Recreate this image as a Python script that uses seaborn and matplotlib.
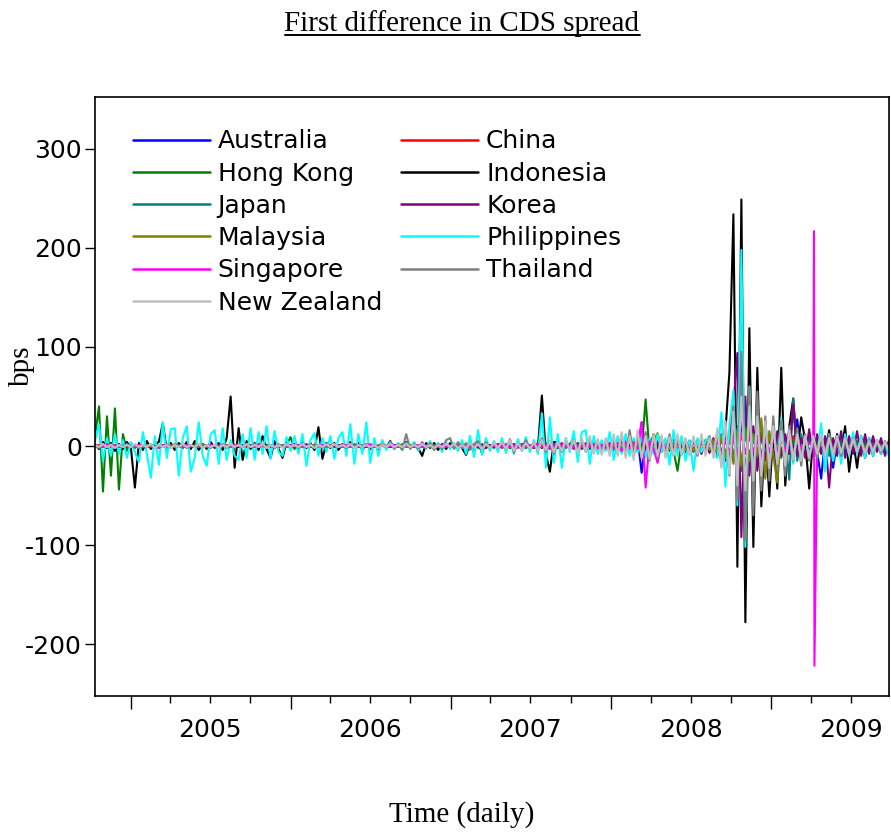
import matplotlib
matplotlib.use("Agg")
import matplotlib.pyplot as plt
import matplotlib.dates as mdates
from matplotlib.lines import Line2D
from matplotlib.ticker import FuncFormatter, NullFormatter, FixedLocator
import numpy as np
import pandas as pd
import seaborn as sns

START, END = "2004-10-12", "2009-09-26"

australia = [
    0, 1, -1, 1, 0, -1, 1, 0, -1, 1,
    0, -1, 1, 0, -1, 1, 0, 1, -1, 0,
    1, -1, 0, 1, -1, 0, 1, -1, 1, 0,
    -1, 1, 0, -1, 1, 0, -1, 1, 0, -1,
    1, 0, -1, 1, -1, 0, 1, -1, 0, 1,
    0, -1, 1, 0, -1, 1, -1, 0, 1, -1,
    1, 0, -1, 1, 0, -1, 1, -1, 0, 1,
    -1, 0, 1, -1, 1, 0, -1, 1, 0, -1,
    1, -1, 0, 1, -1, 1, 0, -1, 1, 0,
    -1, 1, -1, 0, 1, -1, 2, -1, 1, -1,
    1, -2, 1, -1, 2, -1, 1, -2, 1, -1,
    2, -2, 3, -2, 2, -3, 2, -1, 2, -2,
    2, -3, 2, -2, 3, -2, 2, -3, 3, -2,
    3, -4, 4, -3, 5, -4, 8, -27, 6, -4,
    3, -5, 4, -3, 5, -4, 3, -5, 4, -3,
    5, -4, 6, -5, 4, -6, 8, -10, 12, -15,
    15, -25, 30, -30, 20, -15, 10, -12, 14, -10,
    8, -10, 12, -8, 10, -6, 27, -8, 6, -5,
    4, -6, -33, 8, 5, -22, 6, -8, 5, -6,
    4, -5, 3, -4, 5, -3, 4, -5, 3, -4,
]
china = [
    1, 0, 2, -1, 3, -1, 1, 0, -1, 1,
    -1, 0, 1, -1, 0, 1, -1, 1, 0, -1,
    0, 1, -1, 0, 1, -1, 0, 1, -1, 1,
    1, -1, 0, 1, 0, -1, 1, 0, -1, 0,
    0, 1, 0, -1, 1, 0, -1, 1, -1, 0,
    -1, 1, 0, -1, 1, 0, 1, -1, 0, 1,
    0, -1, 1, 0, -1, 1, 0, -1, 1, 0,
    1, -1, 1, 0, -1, 0, 1, -1, 0, 1,
    -1, 0, 1, -1, 0, 1, -1, 0, 1, -1,
    1, -1, 0, 1, -2, 1, -1, 2, -1, 1,
    -1, 2, -1, 1, -2, 1, -1, 2, -1, 1,
    -2, 2, -1, 3, -2, 1, -2, 2, -1, 2,
    -2, 3, -2, 2, -3, 2, -2, 3, -2, 2,
    -3, 4, -3, 5, -4, 3, -5, 6, -4, 3,
    -4, 3, -5, 4, -3, 5, -4, 3, -4, 5,
    -4, 5, -6, 4, -5, 6, -8, 10, -12, 10,
    -15, 20, -25, 22, -18, 15, -12, 10, -8, 10,
    -8, 6, -10, 8, -6, 10, -8, 6, -5, 7,
    -6, 5, -4, 6, -5, 4, -6, 5, -4, 6,
    -4, 5, -3, 4, -5, 3, -4, 5, -3, 4,
]
hong_kong = [
    10, 40, -46, 30, -30, 38, -44, 12, -5, 3,
    -2, 1, -1, 2, -1, 1, -2, 1, 0, -1,
    1, -1, 2, -1, 0, 1, -1, 1, -2, 1,
    0, -1, 1, -1, 2, -1, 1, 0, -1, 1,
    -1, 2, -1, 1, 0, -1, 1, -1, 1, 9,
    -3, 1, -1, 2, -1, 1, 0, -1, 1, -1,
    1, -1, 0, 1, -1, 2, -1, 1, -1, 0,
    1, -1, 1, 0, -1, 1, -1, 2, -1, 1,
    -1, 0, 1, -1, 1, -1, 2, -1, 1, 0,
    -1, 1, -2, 1, -1, 2, -1, 1, -2, 1,
    -1, 2, -1, 1, -2, 1, -1, 2, -2, 1,
    -2, 2, -1, 2, -2, 3, -2, 1, -2, 2,
    7, -3, 2, -2, 3, -2, 2, -3, 2, -2,
    3, -3, 4, -3, 2, -4, 3, -5, 47, -8,
    4, -3, 5, -4, 3, -5, -25, 4, -3, 5,
    -4, 6, -5, 4, -6, 5, -8, 10, -10, 12,
    -15, 18, -20, 15, -12, 10, -8, 10, -12, 8,
    -6, 8, -5, 6, -8, 5, -6, 7, -5, 10,
    -4, 5, -6, 4, -5, 6, -4, 5, -3, 4,
    -3, 4, -5, 3, -4, 5, -3, 4, -3, 3,
]
indonesia = [
    2, -3, 4, -2, 3, -5, 2, -3, 4, -2,
    -42, 3, -4, 5, -3, 2, 4, 23, -5, 3,
    -4, 3, -2, 4, -3, 5, -4, 2, -3, 4,
    -2, 3, -4, 8, 50, -22, 18, -14, 5, -3,
    3, -4, 10, -3, -12, 5, -3, -12, 4, -3,
    2, -3, 4, -2, 3, -4, 19, -13, 3, -2,
    3, -4, 2, -3, 4, -2, 3, -4, 2, -3,
    2, -3, 3, -2, 5, -3, 2, -3, 4, -2,
    3, -2, -10, 3, -2, 3, -4, 2, -3, 3,
    -2, 3, -2, -9, 3, -3, 4, -7, 3, -2,
    2, -3, 3, -2, 4, -3, 2, -4, 3, -2,
    3, -2, 51, -8, -26, 4, 4, -5, 3, -2,
    2, -3, 4, -2, 3, -4, 2, -3, 3, -2,
    3, -2, 4, -3, 2, -4, 3, -5, 4, -3,
    12, -4, 3, -5, 4, -3, 5, -4, 3, -5,
    4, -3, 5, -4, 6, -5, 8, -10, 15, 74,
    234, -122, 249, -178, 119, -102, 79, -61, 20, -51,
    15, -43, 79, -40, 20, 48, -10, 29, 5, -43,
    8, -12, 10, -8, 16, -10, 12, -8, 20, -26,
    6, -22, 10, -12, 8, -10, 6, -8, 4, -6,
]
japan = [
    0, 1, -1, 2, -1, 1, -1, 0, 1, -1,
    1, 0, -1, 1, -1, 0, 1, -1, 1, 0,
    -1, 1, 0, -1, 1, -1, 0, 1, -1, 1,
    0, 1, -1, 0, 1, -1, 1, 0, -1, 1,
    -1, 0, 1, -1, 0, 1, -1, 1, 0, -1,
    1, -1, 0, 1, -1, 1, 0, -1, 1, 0,
    -1, 1, -1, 0, 1, 0, -1, 1, -1, 1,
    0, -1, 1, -1, 0, 1, -1, 0, 1, -1,
    1, 0, -1, 1, -1, 0, 1, -1, 0, 1,
    -1, 1, -1, 2, -1, 1, -2, 1, -1, 1,
    -2, 1, -1, 2, -1, 2, -1, 1, -2, 1,
    -1, 2, -2, 3, -2, 2, -1, 2, -2, 1,
    -2, 3, -2, 2, -3, 2, -3, 2, -2, 3,
    -3, 4, -3, 5, -4, 3, -5, 6, -4, 3,
    -4, 5, -3, 4, -5, 3, -4, 5, -3, 4,
    -5, 4, -6, 5, -4, 6, -8, 10, -12, 12,
    -15, 18, -25, 20, -15, 12, -18, 14, -10, 12,
    -10, 8, -12, 10, -34, 48, -15, 12, -10, 8,
    -8, 10, -6, 8, -10, 6, -8, 7, -5, 6,
    -5, 4, -6, 5, -4, 5, -3, 4, -5, 3,
]
korea = [
    1, -1, 0, 1, -1, 1, 0, -1, 1, 0,
    -1, 1, 0, -1, 1, 0, -1, 1, -1, 0,
    1, 0, -1, 1, -1, 0, 1, -1, 0, 1,
    -1, 1, -1, 0, 1, -1, 1, 0, -1, 1,
    0, -1, 1, -1, 0, 1, -1, 1, 0, -1,
    1, -1, 0, 1, -1, 0, 1, -1, 1, 0,
    -1, 1, 0, -1, 1, -1, 0, 1, -1, 1,
    0, -1, 1, 0, -1, 1, -1, 0, 1, -1,
    1, 0, -1, 1, 0, -1, 1, -1, 0, 1,
    -1, 2, -1, 1, -2, 1, -1, 1, -2, 1,
    -1, 2, -2, 1, -1, 2, -1, 2, -1, 1,
    -2, 3, -2, 2, -3, 2, -2, 3, -1, 2,
    -3, 2, -3, 3, -2, 4, -3, 2, -4, 3,
    -4, 3, -5, 4, -3, 5, -4, 24, -6, 4,
    -5, 4, -6, 5, -4, 6, -5, 4, -6, 5,
    -6, 5, -8, 6, -7, 8, -10, 12, -15, 10,
    40, 94, -92, 50, -30, 20, -25, 15, -15, 10,
    -12, 15, -10, 12, -8, 42, -10, 8, -12, 17,
    -10, 12, -8, 10, -42, 8, -10, 15, -12, 10,
    -8, 15, -10, 12, -8, 10, -6, 8, -10, 6,
]
malaysia = [
    -1, 1, 0, 2, -1, 1, -1, 0, 1, -1,
    0, 1, -1, 1, 0, -1, 1, -1, 0, 1,
    -1, 0, 1, -1, 1, 0, -1, 1, 0, -1,
    1, -1, 0, 1, -1, 1, 0, -1, 1, 0,
    -1, 1, -1, 0, 1, -1, 0, 1, -1, 1,
    0, -1, 1, -1, 0, 1, -1, 0, 1, -1,
    1, 0, -1, 1, -1, 0, 1, -1, 1, 0,
    -1, 1, 0, -1, 1, -1, 0, 1, -1, 1,
    0, -1, 1, 0, -1, 1, -1, 0, 1, -1,
    1, -1, 2, -1, 1, -1, 2, -1, 1, -2,
    1, -1, 2, -2, 1, -1, 2, -1, 1, -2,
    2, -1, 2, -2, 3, -2, 1, -2, 2, -1,
    2, -3, 2, -2, 3, -2, 2, -3, 3, -2,
    3, -4, 3, -3, 4, -3, 4, -4, 3, -4,
    5, 13, -4, 5, -3, 4, -5, 3, -4, 5,
    -5, 4, -6, 5, -4, 6, -8, 10, -12, 14,
    -18, 15, -20, 18, -15, 12, -10, 28, -33, 15,
    -10, -37, 12, -10, 8, -12, 10, -8, 6, -8,
    5, -6, 8, -5, 6, -4, 5, -6, 4, -5,
    3, -4, 5, -3, 4, -5, 3, -4, 3, -3,
]
philippines = [
    5, 22, -15, 8, -10, 12, -8, 6, -12, 4,
    -6, -16, 14, -8, -32, 10, -19, 24, -12, 17,
    18, -30, 8, 20, -26, -12, 24, -10, -20, 12,
    16, -18, 18, -14, 6, -10, -14, 12, -12, 18,
    -14, 14, -8, 20, -13, 15, -6, -10, 9, -5,
    10, -8, 12, -20, 6, 13, -10, 8, -6, 10,
    -13, 8, 14, -10, 22, -18, 12, -8, 24, -17,
    8, -10, 6, -4, 4, -3, 3, -4, 3, -2,
    4, -5, 3, -3, 5, -4, 3, -6, 4, -3,
    3, -5, 6, -8, 10, -11, 16, -9, 8, -5,
    5, -6, 8, -7, 6, -8, 7, -5, 9, -6,
    6, -8, 33, -22, 29, -17, 12, -22, 8, -6,
    15, -16, 14, 16, -18, 10, -8, 6, -5, 14,
    -14, 10, -8, 12, -10, 8, -6, 10, -12, 8,
    -8, 12, -6, 8, -19, 16, -10, 10, -15, 6,
    -25, 8, -6, 5, 10, -8, -12, 34, -41, 20,
    56, -60, 198, -102, 60, -40, 40, -30, 25, -20,
    15, -15, 28, -20, 15, -18, 12, -14, 8, -10,
    5, -12, 23, -26, 12, -15, 10, -18, 12, -10,
    14, -8, 10, -12, 8, -10, 6, -8, 5, -12,
]
singapore = [
    1, 0, -1, 2, 0, 1, -1, 0, 1, 0,
    -1, 1, 0, -1, 1, 0, -2, 1, 0, -1,
    1, 0, -1, 1, 0, -1, 1, 0, -1, 1,
    0, -1, 1, 0, -1, 1, 0, -1, 1, 0,
    -1, 1, 0, -1, 1, -2, 1, 0, -1, 1,
    0, 1, -1, 0, 1, -1, 0, 1, -1, 0,
    1, -1, 0, 1, -1, 0, 1, -1, 0, 2,
    -1, 0, 1, -1, 0, 1, -1, 0, 1, -1,
    0, 1, -1, 0, 1, -1, 0, 1, -1, 0,
    1, -1, 0, 1, -1, 1, 0, -1, 1, -1,
    0, 1, -1, 2, -1, 1, -2, 1, -1, 1,
    -1, 2, -1, 1, -2, 1, -1, 2, -1, 1,
    -2, 1, -1, 2, -1, 2, -2, 1, -2, 2,
    -2, 3, -5, 3, -2, 4, -3, 24, -42, 5,
    -3, -17, 4, -3, 5, -4, 3, -5, 4, -3,
    4, -5, 3, -4, 5, -3, 6, -8, 5, -6,
    8, -10, 12, -8, 10, -6, 8, -10, 6, -5,
    7, -5, 6, -4, 5, -6, 4, -3, 5, 2,
    3, -2, 5, -4, 6, -8, 3, -5, 4, -3,
    5, -4, 3, -5, 4, -3, 5, -4, 3, -2,
]
# Singapore's two-day jump in April 2009 (daily observations)
singapore_jump_dates = ["2009-04-08", "2009-04-09"]
singapore_jump_values = [217, -222]

thailand = [
    1, -2, 2, -1, 2, -2, 1, -1, 2, -1,
    1, -2, 1, -1, 2, -2, 1, -1, 2, -1,
    2, -1, 1, -2, 1, -1, 2, -1, 1, -2,
    1, -1, 2, -2, 1, -1, 2, -1, 1, -1,
    2, -1, 1, -2, 1, -2, 2, -1, 1, -1,
    1, -2, 1, -1, 2, -1, 1, -2, 1, -1,
    2, -1, 1, -2, 2, -1, 1, -1, 2, -2,
    1, -2, 2, -1, 3, -2, 2, -4, 12, -3,
    2, -3, 4, -2, 3, -4, 2, -3, 6, 8,
    -3, 4, -2, 3, -4, 2, 5, -3, 4, -2,
    3, -2, 4, -3, 7, -7, 3, -2, 6, -3,
    4, -5, 8, -6, 5, -8, 4, -6, 5, -3,
    6, -5, 4, -6, 7, -4, 5, -6, 4, -5,
    6, -8, 11, -9, 16, -10, 8, -12, 14, -15,
    10, -12, 9, -8, 12, -10, 8, -9, 7, -6,
    8, -10, 6, -8, 10, -6, 15, -20, 25, -30,
    40, -55, 95, -95, 60, -70, 55, -45, 30, -35,
    30, -25, 25, -30, 20, -15, 18, -20, 12, -15,
    10, -12, 8, -10, 12, -8, 6, -10, 8, -6,
    8, -6, 5, -7, 6, -5, 4, -6, 5, -4,
]
new_zealand = [
    1, -1, 2, -1, 1, -2, 1, -1, 1, -1,
    2, -1, 1, -1, 2, -2, 1, -1, 1, -2,
    1, -1, 2, -1, 1, -1, 2, -2, 1, -1,
    1, -2, 1, -1, 2, -1, 1, -1, 2, -1,
    1, -1, 2, -2, 1, -1, 1, -2, 2, -1,
    1, -1, 2, -1, 1, -2, 1, -1, 2, -1,
    2, -1, 1, -1, 2, -2, 1, -1, 1, -1,
    1, -2, 1, -1, 2, -1, 1, -1, 2, -1,
    1, -1, 2, -1, 1, -2, 1, -1, 2, -1,
    2, -2, 1, -2, 3, -2, 2, -3, 2, -2,
    3, -2, 4, -3, 6, -5, 3, -4, 3, -3,
    4, -5, 6, -4, 5, -6, 4, -5, 6, -4,
    6, -7, 8, -6, 10, -8, 7, -9, 8, -10,
    12, -10, 14, -12, 10, -14, 16, -12, 10, -13,
    12, -10, 11, -12, 9, -10, 12, -9, 8, -10,
    10, -8, 12, -10, 8, -12, 18, -22, 25, -28,
    35, -40, 50, -45, 40, -35, 30, -30, 25, -22,
    20, -18, 15, -20, 16, -14, 12, -15, 10, -12,
    10, -8, 12, -10, 8, -9, 10, -7, 8, -8,
    7, -6, 6, -7, 5, -6, 6, -5, 4, -5,
]

names = ["Australia", "China", "Hong Kong", "Indonesia", "Japan", "Korea",
         "Malaysia", "Philippines", "Singapore", "Thailand", "New Zealand"]
values = [australia, china, hong_kong, indonesia, japan, korea,
          malaysia, philippines, singapore, thailand, new_zealand]
colors = ["#0000ff", "#ff0000", "#008000", "#000000", "#008080", "#800080",
          "#808000", "#00ffff", "#ff00ff", "#808080", "#c0c0c0"]
extras = {"Singapore": (singapore_jump_dates, singapore_jump_values)}
year_labels = ["2005", "2006", "2007", "2008", "2009"]
y_ticks = [-200, -100, 0, 100, 200, 300]

sns.set_style("white")
plt.rcParams["font.family"] = ["DejaVu Sans"]
plt.rcParams["text.color"] = "black"
plt.rcParams["axes.labelcolor"] = "black"
plt.rcParams["xtick.color"] = "black"
plt.rcParams["ytick.color"] = "black"

W, H = 891, 832
fig = plt.figure(figsize=(W / 100, H / 100), dpi=100)
L, R, T, B = 95, 889, 97, 696
ax = fig.add_axes([L / W, 1 - B / H, (R - L) / W, (B - T) / H])

handles = {}
for name, vals, col in zip(names, values, colors):
    df = pd.DataFrame({"date": pd.date_range(START, END, periods=len(vals)),
                       "bps": vals})
    if name in extras:
        ed, ev = extras[name]
        df = pd.concat([df, pd.DataFrame({"date": pd.to_datetime(ed), "bps": ev})])
        df = df.sort_values("date").reset_index(drop=True)
    sns.lineplot(data=df, x="date", y="bps", color=col, lw=1.5, ax=ax,
                 legend=False)
    handles[name] = Line2D([], [], color=col, lw=1.8)

ax.set_xlim(pd.Timestamp(START), pd.Timestamp(END))
ax.set_ylim(-252.5, 352.5)
ax.set_xlabel("")
ax.set_ylabel("")

for s in ax.spines.values():
    s.set_color("black")
    s.set_linewidth(1.2)

ax.set_yticks(y_ticks)
ax.set_yticklabels([str(v) for v in y_ticks])
ax.tick_params(axis="y", which="major", left=True, length=7.5, width=1.0,
               direction="out", pad=2, labelsize=18, color="black",
               labelcolor="black")

ax.xaxis.set_major_locator(mdates.YearLocator())
ax.xaxis.set_major_formatter(NullFormatter())
mids = [mdates.date2num(pd.Timestamp(f"{y}-07-01")) for y in year_labels]
quarters = []
for y in range(2004, 2010):
    for m in (4, 7, 10):
        d = pd.Timestamp(f"{y}-{m:02d}-01")
        if pd.Timestamp(START) < d < pd.Timestamp(END):
            quarters.append(mdates.date2num(d))
ax.xaxis.set_minor_locator(FixedLocator(quarters))
lab_map = {round(m): y for m, y in zip(mids, year_labels)}
ax.xaxis.set_minor_formatter(FuncFormatter(lambda x, pos: lab_map.get(round(x), "")))
ax.tick_params(axis="x", which="major", bottom=True, length=9.5, width=1.0,
               direction="out", color="black")
ax.tick_params(axis="x", which="minor", bottom=True, length=5, width=1.0,
               direction="out", pad=11, labelsize=18, color="black",
               labelcolor="black")

order = ["Australia", "Hong Kong", "Japan", "Malaysia", "Singapore", "New Zealand",
         "China", "Indonesia", "Korea", "Philippines", "Thailand"]
ax.legend([handles[n] for n in order], order, ncol=2, loc="upper left",
          bbox_to_anchor=(0.0475, 0.946), frameon=False, fontsize=18,
          handlelength=3.08, handletextpad=0.32, columnspacing=0.76,
          labelspacing=0.33, borderpad=0, borderaxespad=0)

serif = ["Liberation Serif", "DejaVu Serif"]
title = fig.text(462 / W, 1 - 31 / H, "First difference in CDS spread",
                 ha="center", va="baseline", family=serif, fontsize=21,
                 color="black")
fig.text(462 / W, 1 - 822 / H, "Time (daily)", ha="center", va="baseline",
         family=serif, fontsize=21, color="black")
fig.text(22 / W, 1 - 366 / H, "bps", ha="center", va="center", rotation=90,
         family=serif, fontsize=21, color="black")

fig.canvas.draw()
bb = title.get_window_extent().transformed(fig.transFigure.inverted())
fig.add_artist(Line2D([bb.x0, bb.x1], [1 - 35 / H, 1 - 35 / H],
                      transform=fig.transFigure, color="black", lw=1.4))

fig.savefig("out.png", dpi=100)
